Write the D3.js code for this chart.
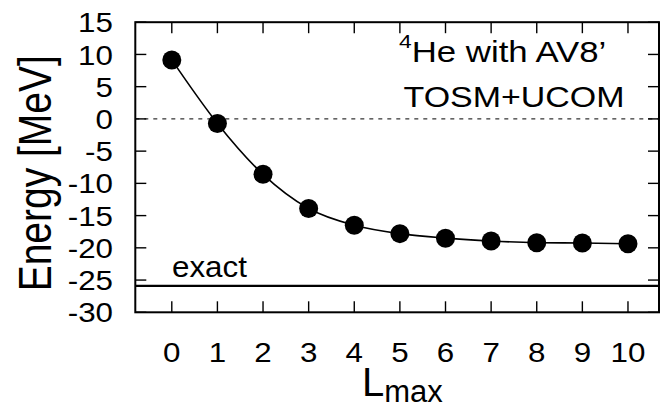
<!DOCTYPE html>
<html>
<head>
<meta charset="utf-8">
<script src="https://cdn.jsdelivr.net/npm/d3@7"></script>
<style>
  body { margin: 0; background: #fff; }
  text { font-family: "Liberation Sans", Arial, sans-serif; fill: #000; }
</style>
</head>
<body>
<div id="chart"></div>
<script>
// data
const lmax = [0, 1, 2, 3, 4, 5, 6, 7, 8, 9, 10]
const energy = [9.15, -0.7, -8.6, -13.9, -16.5, -17.8, -18.5, -18.95, -19.2, -19.26, -19.37]
const exactEnergy = -25.9
const yTicks = [15, 10, 5, 0, -5, -10, -15, -20, -25, -30]
const xTicks = [0, 1, 2, 3, 4, 5, 6, 7, 8, 9, 10]

const W = 660, H = 408
const box = { left: 135.3, right: 659, top: 22.2, bottom: 312.3 }

const svg = d3.select("#chart")
    .append("svg")
    .attr("width", W)
    .attr("height", H)

const x = d3.scaleLinear()
    .domain([-0.8, 10.68])
    .range([box.left, box.right])

const y = d3.scaleLinear()
    .domain([-30, 15])
    .range([box.bottom, box.top])

const tickLen = 11

// the original lettering is a bit wider than Liberation Sans, so stretch it
function label(parent, px, py, sx) {
    return parent.append("g")
        .attr("transform", `translate(${px},${py}) scale(${sx},1)`)
        .append("text")
}

// zero line (dashed)
svg.append("line")
    .attr("x1", box.left).attr("x2", box.right)
    .attr("y1", y(0)).attr("y2", y(0))
    .attr("stroke", "#000")
    .attr("stroke-width", 1)
    .attr("stroke-dasharray", "4,5")

// exact line
svg.append("line")
    .attr("x1", box.left).attr("x2", box.right)
    .attr("y1", y(exactEnergy)).attr("y2", y(exactEnergy))
    .attr("stroke", "#000")
    .attr("stroke-width", 2.2)

label(svg, 172, y(exactEnergy) - 9, 1.08)
    .style("font-size", "29px")
    .text("exact")

// ticks on all four sides, pointing inward
const tk = svg.append("g")
    .attr("stroke", "#000")
    .attr("stroke-width", 1.4)

yTicks.forEach(function(v) {
    tk.append("line").attr("x1", box.left).attr("x2", box.left + tickLen)
        .attr("y1", y(v)).attr("y2", y(v))
    tk.append("line").attr("x1", box.right).attr("x2", box.right - tickLen)
        .attr("y1", y(v)).attr("y2", y(v))
})
xTicks.forEach(function(v) {
    tk.append("line").attr("x1", x(v)).attr("x2", x(v))
        .attr("y1", box.bottom).attr("y2", box.bottom - tickLen)
    tk.append("line").attr("x1", x(v)).attr("x2", x(v))
        .attr("y1", box.top).attr("y2", box.top + tickLen)
})

// tick labels
yTicks.forEach(function(v) {
    label(svg, 113, y(v), 1.12)
        .attr("dy", "0.36em")
        .attr("text-anchor", "end")
        .style("font-size", "28px")
        .text(v)
})

xTicks.forEach(function(v) {
    label(svg, x(v), 362, 1.12)
        .attr("text-anchor", "middle")
        .style("font-size", "28px")
        .text(v)
})

// frame
svg.append("rect")
    .attr("x", box.left).attr("y", box.top)
    .attr("width", box.right - box.left)
    .attr("height", box.bottom - box.top)
    .attr("fill", "none")
    .attr("stroke", "#000")
    .attr("stroke-width", 2)

// curve + points
const pts = lmax.map(function(d, i) { return [d, energy[i]] })
const line = d3.line()
    .x(function(d) { return x(d[0]) })
    .y(function(d) { return y(d[1]) })
    .curve(d3.curveMonotoneX)

svg.append("path")
    .datum(pts)
    .attr("d", line)
    .attr("fill", "none")
    .attr("stroke", "#000")
    .attr("stroke-width", 1.6)

svg.selectAll(".pt")
    .data(pts)
    .join("circle")
    .attr("class", "pt")
    .attr("cx", function(d) { return x(d[0]) })
    .attr("cy", function(d) { return y(d[1]) })
    .attr("r", 9.5)
    .attr("fill", "#000")

// annotation
const ann = label(svg, 399, 61.7, 1.2)
    .style("font-size", "29px")
ann.append("tspan").attr("dy", -14).style("font-size", "19px").text("4")
ann.append("tspan").attr("dy", 14).text("He with AV8\u2019")

label(svg, 514, 106.7, 1.17)
    .attr("text-anchor", "middle")
    .style("font-size", "29px")
    .text("TOSM+UCOM")

// axis titles
svg.append("g")
    .attr("transform", `translate(51,${(box.top + box.bottom) / 2 + 6}) scale(1.2,1) rotate(-90)`)
    .append("text")
    .attr("text-anchor", "middle")
    .style("font-size", "39px")
    .text("Energy [MeV]")

const xt = svg.append("text")
    .attr("x", 362)
    .attr("y", 396)
    .style("font-size", "40px")
xt.append("tspan").text("L")
xt.append("tspan").attr("dy", 5.5).style("font-size", "31px").text("max")
</script>
</body>
</html>
